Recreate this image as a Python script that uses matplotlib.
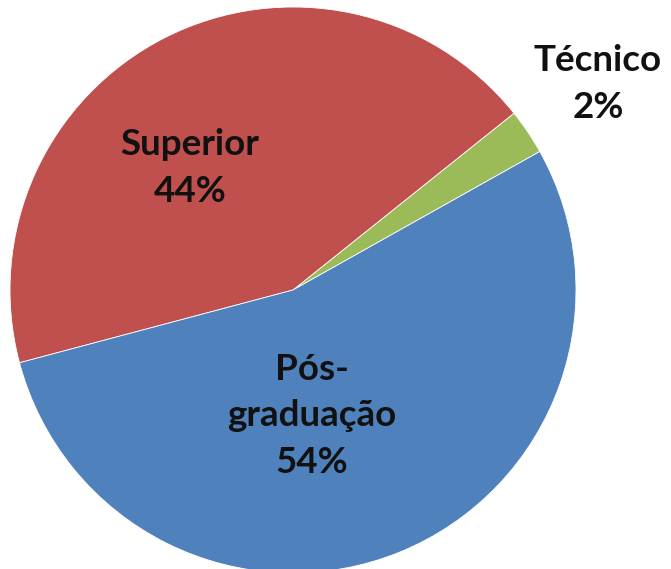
import matplotlib.pyplot as plt

# dados
categorias = ['Técnico', 'Superior', 'Pós-\ngraduação']
valores = [2.6, 43.4, 54.0]
rotulos_pct = ['2%', '44%', '54%']
cores = ['#9BBB59', '#C0504D', '#4F81BD']

W, H = 671, 569
fig = plt.figure(figsize=(W / 100, H / 100), dpi=100)

cx, cy, r = 293, 290, 283
ax = fig.add_axes([(cx - r) / W, (H - cy - r) / H, 2 * r / W, 2 * r / H])
ax.pie(valores, colors=cores, startangle=29.3, counterclock=True,
       wedgeprops=dict(edgecolor='white', linewidth=0.6))
ax.set_xlim(-1, 1)
ax.set_ylim(-1, 1)
ax.set_aspect('equal')
ax.axis('off')

fonte = dict(family=['Lato', 'DejaVu Sans'], weight='bold', fontsize=26.5,
             color='#111111', ha='center', va='center', linespacing=1.5)

# posição dos rótulos em pixels
pos = [(598, 84), (190, 168), (312, 416)]
for nome, pct, (px, py) in zip(categorias, rotulos_pct, pos):
    fig.text(px / W, 1 - py / H, nome + '\n' + pct, **fonte)

fig.savefig('out.png', dpi=100)
